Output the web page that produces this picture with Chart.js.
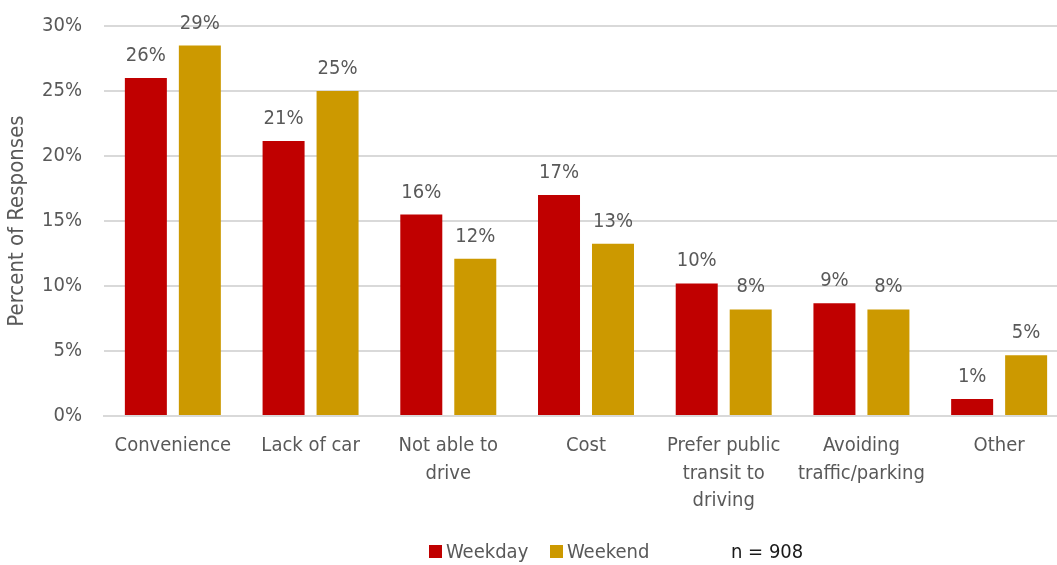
<!DOCTYPE html>
<html>
<head>
<meta charset="utf-8">
<script src="https://cdn.jsdelivr.net/npm/chart.js@4/dist/chart.umd.min.js"></script>
<style>
  html, body { margin: 0; padding: 0; background: #fff; overflow: hidden; }
  #wrap { position: relative; width: 1070px; height: 565px; overflow: hidden; }
  #chart { position: absolute; left: 0; top: -8px; }
  .txt { position: absolute; font: 20px "DejaVu Sans Condensed", sans-serif; line-height: 24px; white-space: nowrap; }
  .sw { position: absolute; width: 13px; height: 13px; }
</style>
</head>
<body>
<div id="wrap">
  <canvas id="chart" width="1070" height="573"></canvas>
  <div class="sw" style="left:429px;top:545px;background:#C00000"></div>
  <div class="txt" style="left:446px;top:539px;color:#595959">Weekday</div>
  <div class="sw" style="left:550px;top:545px;background:#CC9900"></div>
  <div class="txt" style="left:567px;top:539px;color:#595959">Weekend</div>
  <div class="txt" style="left:731px;top:539px;color:#1a1a1a">n = 908</div>
</div>
<script>
const categories = [
  'Convenience',
  'Lack of car',
  ['Not able to', 'drive'],
  'Cost',
  ['Prefer public', 'transit to', 'driving'],
  ['Avoiding', 'traffic/parking'],
  'Other'
];
const weekday = [26.0, 21.15, 15.5, 17.0, 10.2, 8.67, 1.3];
const weekend = [28.5, 25.0, 12.1, 13.25, 8.2, 8.2, 4.67];
const yTicks = [0, 5, 10, 15, 20, 25, 30];

const FONT = '"DejaVu Sans Condensed", sans-serif';
const GREY = '#595959';

// value labels above each bar
const barLabels = {
  id: 'barLabels',
  afterDatasetsDraw(chart) {
    const ctx = chart.ctx;
    ctx.save();
    ctx.font = '20px ' + FONT;
    ctx.fillStyle = GREY;
    ctx.textAlign = 'center';
    ctx.textBaseline = 'alphabetic';
    chart.data.datasets.forEach((ds, i) => {
      chart.getDatasetMeta(i).data.forEach((bar, j) => {
        ctx.fillText(Math.round(ds.data[j]) + '%', bar.x, bar.y - 17);
      });
    });
    ctx.restore();
  }
};

new Chart(document.getElementById('chart'), {
  type: 'bar',
  data: {
    labels: categories,
    datasets: [
      { label: 'Weekday', data: weekday, backgroundColor: '#C00000' },
      { label: 'Weekend', data: weekend, backgroundColor: '#CC9900' }
    ]
  },
  options: {
    responsive: false,
    animation: false,
    datasets: { bar: { categoryPercentage: 0.784, barPercentage: 0.778 } },
    layout: { autoPadding: false, padding: { top: 18, left: 4, right: 2, bottom: 0 } },
    plugins: {
      legend: { display: false },
      tooltip: { enabled: false }
    },
    scales: {
      x: {
        grid: { display: false },
        border: { color: '#D9D9D9', width: 2 },
        ticks: {
          color: GREY, font: { family: FONT, size: 20, lineHeight: 1.38 },
          maxRotation: 0, autoSkip: false, padding: 8
        },
        afterFit: ax => { ax.height = 149; }
      },
      y: {
        min: 0, max: 30,
        afterBuildTicks: ax => { ax.ticks = yTicks.map(v => ({ value: v })); },
        grid: { color: '#D9D9D9', lineWidth: 2, drawTicks: false },
        border: { display: false },
        ticks: {
          color: GREY, font: { family: FONT, size: 20 }, padding: 22,
          callback: v => v + '%'
        },
        title: {
          display: true, text: 'Percent of Responses',
          color: GREY, font: { family: FONT, size: 22 }, padding: { top: 0, bottom: 0 }
        },
        afterFit: ax => { ax.width = 100; }
      }
    }
  },
  plugins: [barLabels]
});
</script>
</body>
</html>
